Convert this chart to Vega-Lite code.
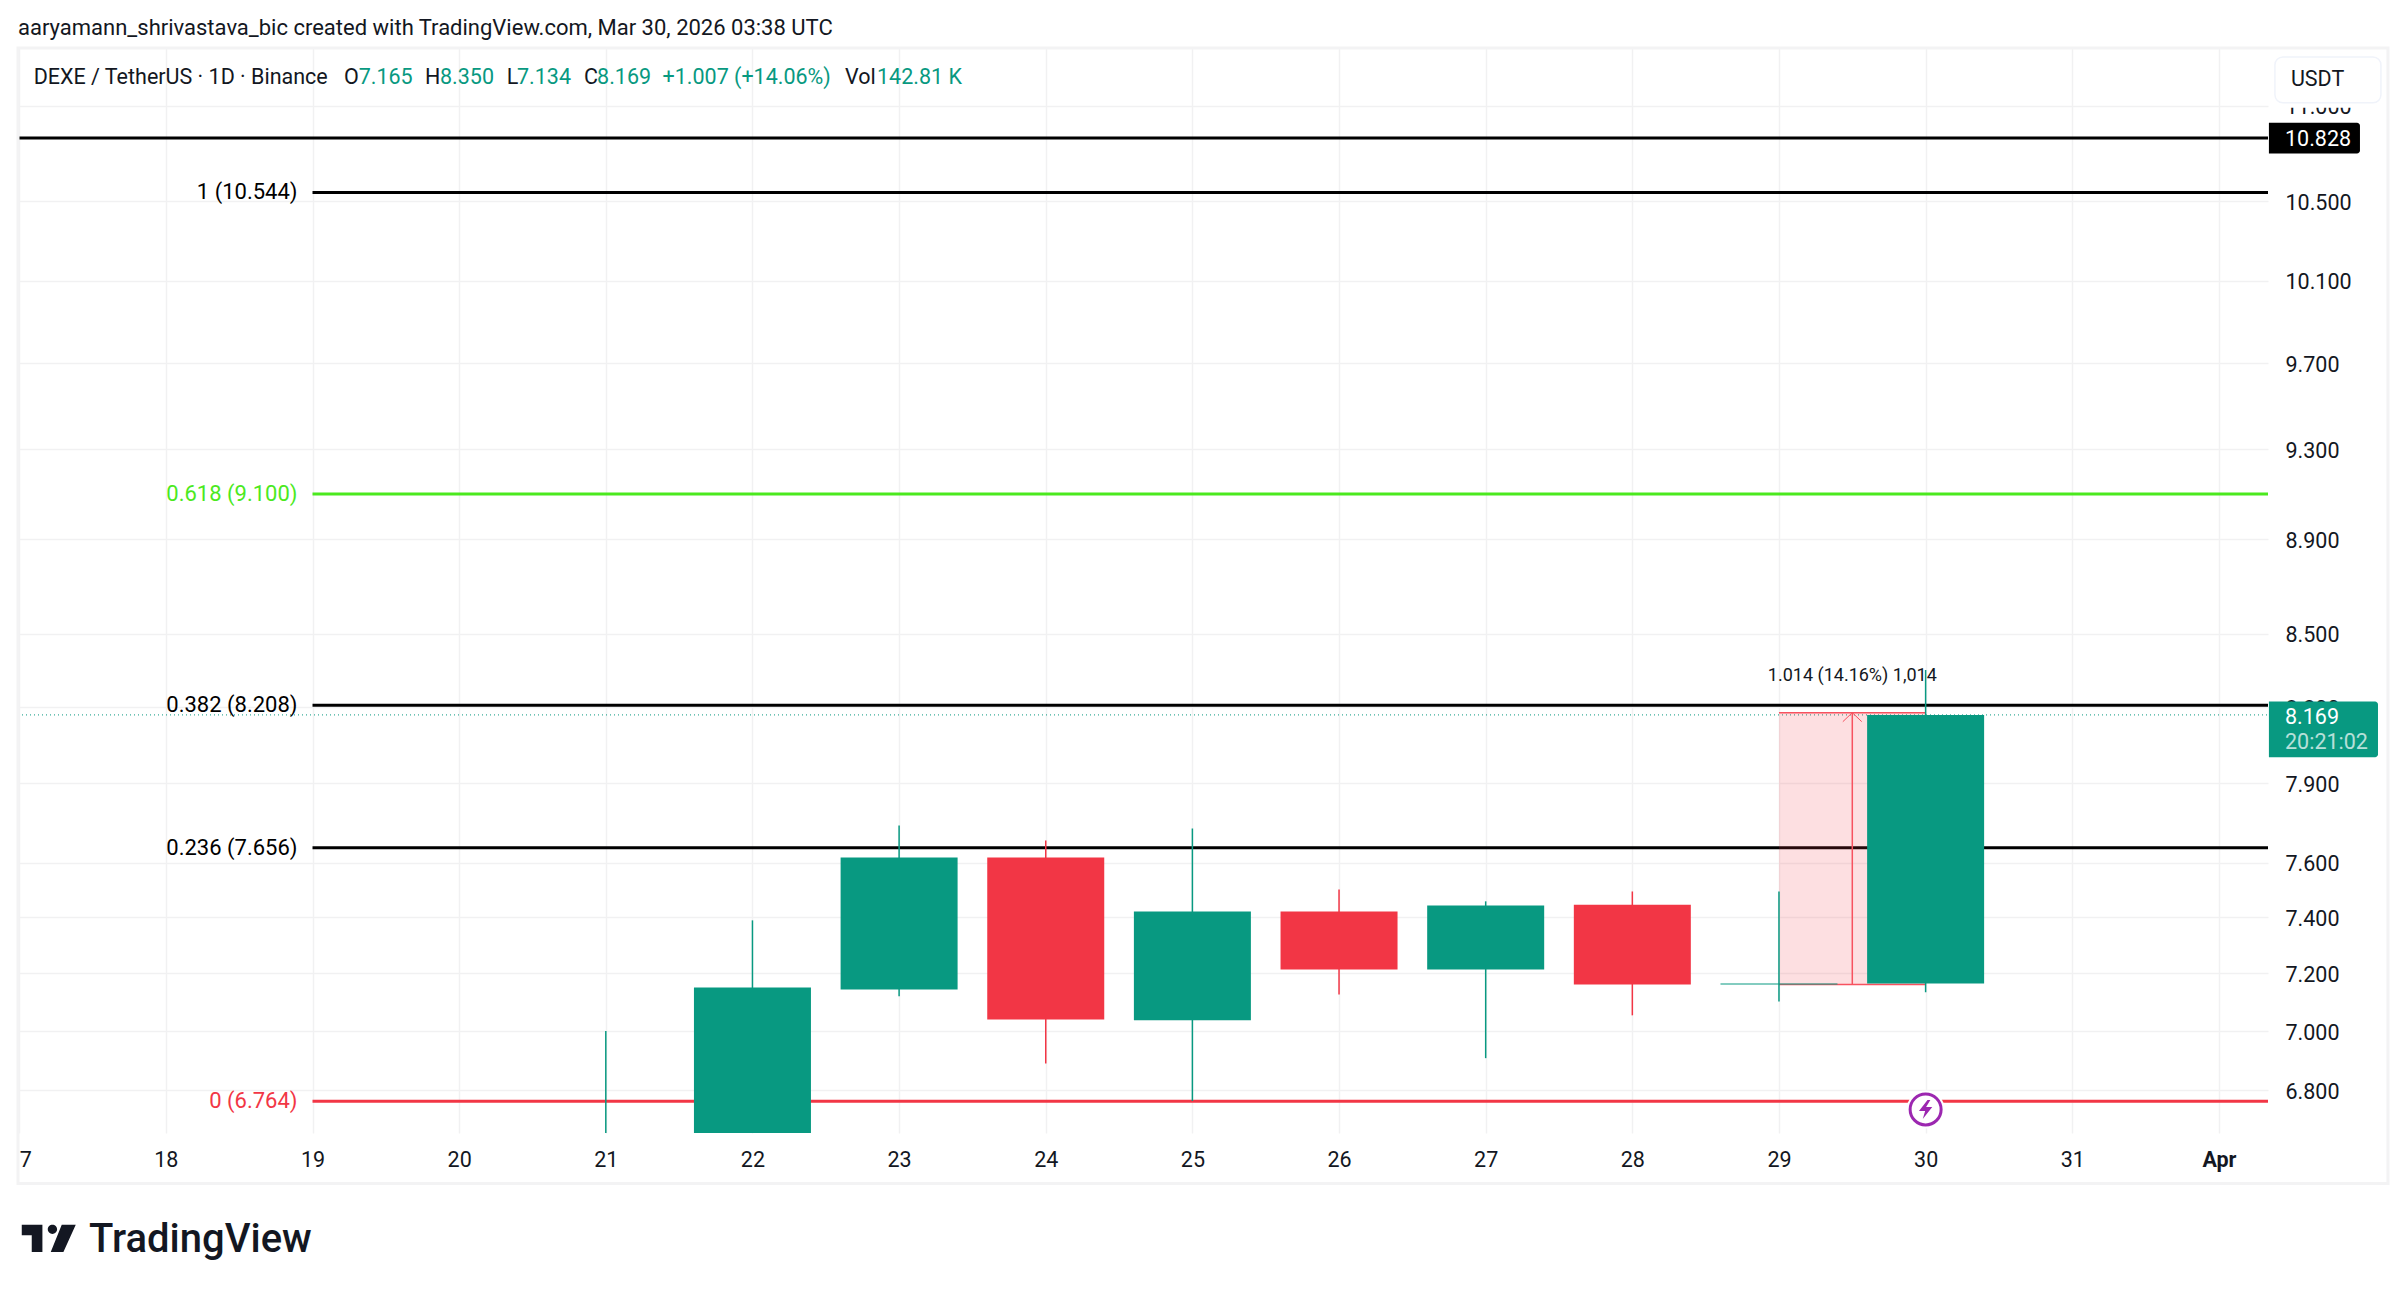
{
  "$schema": "https://vega.github.io/schema/vega-lite/v6.json",
  "width": 2250,
  "height": 1085,
  "autosize": {"type": "none"},
  "padding": {"left": 18, "top": 48, "right": 138, "bottom": 160},
  "background": "white",
  "title": {
    "text": "aaryamann_shrivastava_bic created with TradingView.com, Mar 30, 2026 03:38 UTC",
    "anchor": "start",
    "frame": "group",
    "offset": 7,
    "font": "Roboto",
    "fontSize": 22,
    "fontWeight": "normal",
    "color": "#131722"
  },
  "datasets": {
    "candles": [
      {"date": "2026-03-21T00:00:00Z", "open": 6.5, "close": 6.6, "high": 7.0, "low": 6.45, "direction": "up"},
      {"date": "2026-03-22T00:00:00Z", "open": 6.6, "close": 7.151, "high": 7.389, "low": 6.55, "direction": "up"},
      {"date": "2026-03-23T00:00:00Z", "open": 7.144, "close": 7.619, "high": 7.739, "low": 7.12, "direction": "up"},
      {"date": "2026-03-24T00:00:00Z", "open": 7.619, "close": 7.04, "high": 7.683, "low": 6.89, "direction": "down"},
      {"date": "2026-03-25T00:00:00Z", "open": 7.037, "close": 7.421, "high": 7.728, "low": 6.765, "direction": "up"},
      {"date": "2026-03-26T00:00:00Z", "open": 7.421, "close": 7.214, "high": 7.501, "low": 7.126, "direction": "down"},
      {"date": "2026-03-27T00:00:00Z", "open": 7.214, "close": 7.443, "high": 7.458, "low": 6.908, "direction": "up"},
      {"date": "2026-03-28T00:00:00Z", "open": 7.446, "close": 7.161, "high": 7.494, "low": 7.054, "direction": "down"},
      {"date": "2026-03-29T00:00:00Z", "open": 7.161, "close": 7.165, "high": 7.494, "low": 7.102, "direction": "up"},
      {"date": "2026-03-30T00:00:00Z", "open": 7.165, "close": 8.169, "high": 8.35, "low": 7.134, "direction": "up"}
    ],
    "fib": [
      {"date": "2026-03-19T00:00:00Z", "date2": "2026-04-01T08:02:00Z", "value": 6.764, "level": "0", "label": "0 (6.764)"},
      {"date": "2026-03-19T00:00:00Z", "date2": "2026-04-01T08:02:00Z", "value": 7.656, "level": "0.236", "label": "0.236 (7.656)"},
      {"date": "2026-03-19T00:00:00Z", "date2": "2026-04-01T08:02:00Z", "value": 8.208, "level": "0.382", "label": "0.382 (8.208)"},
      {"date": "2026-03-19T00:00:00Z", "date2": "2026-04-01T08:02:00Z", "value": 9.1, "level": "0.618", "label": "0.618 (9.100)"},
      {"date": "2026-03-19T00:00:00Z", "date2": "2026-04-01T08:02:00Z", "value": 10.544, "level": "1", "label": "1 (10.544)"}
    ],
    "header": [
      {"date": "2026-03-17T02:22:00Z", "value": 11.15, "label": "DEXE / TetherUS · 1D · Binance", "kind": "name"},
      {"date": "2026-03-19T05:09:00Z", "value": 11.15, "label": "O", "kind": "name"},
      {"date": "2026-03-19T07:33:00Z", "value": 11.15, "label": "7.165", "kind": "price"},
      {"date": "2026-03-19T18:25:00Z", "value": 11.15, "label": "H", "kind": "name"},
      {"date": "2026-03-19T20:52:00Z", "value": 11.15, "label": "8.350", "kind": "price"},
      {"date": "2026-03-20T07:47:00Z", "value": 11.15, "label": "L", "kind": "name"},
      {"date": "2026-03-20T09:28:00Z", "value": 11.15, "label": "7.134", "kind": "price"},
      {"date": "2026-03-20T20:26:00Z", "value": 11.15, "label": "C", "kind": "name"},
      {"date": "2026-03-20T22:34:00Z", "value": 11.15, "label": "8.169", "kind": "price"},
      {"date": "2026-03-21T09:17:00Z", "value": 11.15, "label": "+1.007 (+14.06%)", "kind": "price"},
      {"date": "2026-03-22T15:08:00Z", "value": 11.15, "label": "Vol", "kind": "name"},
      {"date": "2026-03-22T20:23:00Z", "value": 11.15, "label": "142.81 K", "kind": "price"}
    ]
  },
  "encoding": {
    "x": {
      "field": "date",
      "type": "temporal",
      "title": null,
      "scale": {"type": "utc", "domain": ["2026-03-16T23:48:00Z", "2026-04-01T08:02:00Z"], "nice": false, "padding": 0},
      "axis": {
        "values": ["2026-03-17T00:00:00Z", "2026-03-18T00:00:00Z", "2026-03-19T00:00:00Z", "2026-03-20T00:00:00Z", "2026-03-21T00:00:00Z", "2026-03-22T00:00:00Z", "2026-03-23T00:00:00Z", "2026-03-24T00:00:00Z", "2026-03-25T00:00:00Z", "2026-03-26T00:00:00Z", "2026-03-27T00:00:00Z", "2026-03-28T00:00:00Z", "2026-03-29T00:00:00Z", "2026-03-30T00:00:00Z", "2026-03-31T00:00:00Z", "2026-04-01T00:00:00Z"],
        "labelExpr": "utcdate(datum.value) === 1 ? 'Apr' : utcFormat(datum.value, '%-d')",
        "labelFontWeight": {"condition": {"test": "utcdate(datum.value) === 1", "value": "bold"}, "value": "normal"},
        "labelFont": "Roboto",
        "labelFontSize": 21.5,
        "labelColor": "#131722",
        "labelPadding": 27,
        "labelBaseline": "middle",
        "labelOverlap": false,
        "labelFlush": false,
        "labelBound": false,
        "domain": false,
        "ticks": false,
        "grid": true,
        "gridColor": "#f1f1f2",
        "gridWidth": 1.5
      }
    },
    "y": {
      "field": "value",
      "type": "quantitative",
      "title": null,
      "scale": {"type": "log", "domain": [6.66, 11.315], "nice": false, "zero": false},
      "axis": {
        "orient": "right",
        "values": [6.8, 7, 7.2, 7.4, 7.6, 7.9, 8.2, 8.5, 8.9, 9.3, 9.7, 10.1, 10.5, 11],
        "format": ".3f",
        "labelFont": "Roboto",
        "labelFontSize": 21.5,
        "labelColor": "#131722",
        "labelPadding": 17,
        "labelOffset": 2,
        "labelAlign": "left",
        "labelBaseline": "middle",
        "labelOverlap": false,
        "labelBound": false,
        "labelFlush": false,
        "domain": false,
        "ticks": false,
        "grid": true,
        "gridColor": "#f1f1f2",
        "gridWidth": 1.5
      }
    }
  },
  "layer": [
    {
      "data": {"name": "fib"},
      "mark": {"type": "rule", "strokeWidth": 3},
      "encoding": {
        "x2": {"field": "date2"},
        "color": {
          "field": "level",
          "type": "nominal",
          "legend": null,
          "scale": {
            "domain": ["0", "0.236", "0.382", "0.618", "1", "up", "down", "name", "price"],
            "range": ["#F23645", "#000000", "#000000", "#4BE91E", "#000000", "#089981", "#F23645", "#131722", "#089981"]
          }
        }
      }
    },
    {
      "data": {"name": "fib"},
      "mark": {"type": "text", "align": "right", "baseline": "middle", "dx": -15, "font": "Roboto", "fontSize": 22},
      "encoding": {
        "text": {"field": "label"},
        "color": {"field": "level", "type": "nominal", "legend": null}
      }
    },
    {
      "data": {"values": [{"date": "2026-03-16T23:48:00Z", "date2": "2026-04-01T08:02:00Z", "value": 10.828}]},
      "mark": {"type": "rule", "strokeWidth": 3, "color": "#000000"},
      "encoding": {"x2": {"field": "date2"}}
    },
    {
      "data": {"values": [{"date": "2026-03-16T23:48:00Z", "date2": "2026-04-01T08:02:00Z", "value": 8.169}]},
      "mark": {"type": "rule", "strokeWidth": 1, "color": "#089981", "strokeDash": [1, 3]},
      "encoding": {"x2": {"field": "date2"}}
    },
    {
      "data": {"values": [{"date": "2026-03-29T00:00:00Z", "date2": "2026-03-30T00:00:00Z", "value": 7.161, "value2": 8.178}]},
      "mark": {"type": "rect", "color": "#F23645", "opacity": 0.16},
      "encoding": {"x2": {"field": "date2"}, "y2": {"field": "value2"}}
    },
    {
      "data": {"values": [
        {"date": "2026-03-29T00:00:00Z", "date2": "2026-03-30T00:00:00Z", "value": 8.178},
        {"date": "2026-03-29T00:00:00Z", "date2": "2026-03-30T00:00:00Z", "value": 7.161}
      ]},
      "mark": {"type": "rule", "strokeWidth": 1.5, "color": "#F7525F"},
      "encoding": {"x2": {"field": "date2"}}
    },
    {
      "data": {"values": [{"date": "2026-03-29T12:00:00Z", "value": 7.161, "value2": 8.178}]},
      "mark": {"type": "rule", "strokeWidth": 1.5, "color": "#F7525F"},
      "encoding": {"y2": {"field": "value2"}}
    },
    {
      "data": {"values": [
        {"date": "2026-03-29T10:27:00Z", "value": 8.142},
        {"date": "2026-03-29T12:00:00Z", "value": 8.178},
        {"date": "2026-03-29T13:33:00Z", "value": 8.142}
      ]},
      "mark": {"type": "line", "strokeWidth": 1, "color": "#F7525F"}
    },
    {
      "data": {"name": "candles"},
      "mark": {"type": "rule", "strokeWidth": 1.5, "clip": true},
      "encoding": {
        "y": {"field": "low", "type": "quantitative"},
        "y2": {"field": "high"},
        "color": {"field": "direction", "type": "nominal", "legend": null}
      }
    },
    {
      "data": {"name": "candles"},
      "mark": {"type": "bar", "width": 117, "clip": true},
      "encoding": {
        "y": {"field": "open", "type": "quantitative"},
        "y2": {"field": "close"},
        "color": {"field": "direction", "type": "nominal", "legend": null}
      }
    },
    {
      "data": {"values": [{"date": "2026-03-29T12:00:00Z", "value": 8.324, "label": "1.014 (14.16%) 1,014"}]},
      "mark": {"type": "text", "align": "center", "baseline": "middle", "font": "Roboto", "fontSize": 18, "color": "#131722"},
      "encoding": {"text": {"field": "label"}}
    },
    {
      "data": {"values": [{"date": "2026-03-30T00:00:00Z", "value": 6.737}]},
      "mark": {"type": "point", "shape": "circle", "filled": true, "size": 1450, "color": "white", "opacity": 1}
    },
    {
      "data": {"values": [{"date": "2026-03-30T00:00:00Z", "value": 6.737}]},
      "mark": {"type": "point", "shape": "circle", "filled": false, "size": 960, "color": "#9C27B0", "strokeWidth": 3, "opacity": 1}
    },
    {
      "data": {"values": [{"date": "2026-03-30T00:00:00Z", "value": 6.737}]},
      "mark": {"type": "point", "shape": "M0.2,-1L-0.7,0.15L-0.05,0.15L-0.3,1L0.7,-0.25L0.05,-0.25L0.5,-1Z", "filled": true, "size": 361, "color": "#9C27B0", "opacity": 1}
    },
    {
      "data": {"values": [{"date": "2026-04-01T08:11:00Z", "date2": "2026-04-02T03:30:00Z", "value": 11.3, "value2": 10.989}]},
      "mark": {"type": "rect", "color": "white"},
      "encoding": {"x2": {"field": "date2"}, "y2": {"field": "value2"}}
    },
    {
      "data": {"values": [{"date": "2026-04-01T09:10:00Z", "date2": "2026-04-02T02:31:00Z", "value": 11.266, "value2": 11.016}]},
      "mark": {"type": "rect", "fill": "white", "stroke": "#F0F3FA", "strokeWidth": 1.5, "cornerRadius": 8},
      "encoding": {"x2": {"field": "date2"}, "y2": {"field": "value2"}}
    },
    {
      "data": {"values": [{"date": "2026-04-01T08:11:00Z", "date2": "2026-04-01T23:05:00Z", "value": 10.909, "value2": 10.746}]},
      "mark": {"type": "rect", "color": "#000000", "cornerRadiusTopRight": 3, "cornerRadiusBottomRight": 3},
      "encoding": {"x2": {"field": "date2"}, "y2": {"field": "value2"}}
    },
    {
      "data": {"values": [{"date": "2026-04-01T08:11:00Z", "date2": "2026-04-02T02:02:00Z", "value": 8.223, "value2": 8.002}]},
      "mark": {"type": "rect", "color": "#089981", "cornerRadiusTopRight": 3, "cornerRadiusBottomRight": 3},
      "encoding": {"x2": {"field": "date2"}, "y2": {"field": "value2"}}
    },
    {
      "data": {"values": [
        {"date": "2026-04-01T10:49:00Z", "value": 10.82, "label": "10.828"},
        {"date": "2026-04-01T10:49:00Z", "value": 8.158, "label": "8.169"}
      ]},
      "mark": {"type": "text", "align": "left", "baseline": "middle", "font": "Roboto", "fontSize": 21.5, "color": "white"},
      "encoding": {"text": {"field": "label"}}
    },
    {
      "data": {"values": [{"date": "2026-04-01T10:49:00Z", "value": 8.059, "label": "20:21:02"}]},
      "mark": {"type": "text", "align": "left", "baseline": "middle", "font": "Roboto", "fontSize": 21.5, "color": "white", "opacity": 0.7},
      "encoding": {"text": {"field": "label"}}
    },
    {
      "data": {"values": [{"date": "2026-04-01T11:47:00Z", "value": 11.138, "label": "USDT"}]},
      "mark": {"type": "text", "align": "left", "baseline": "middle", "font": "Roboto", "fontSize": 21.5, "color": "#131722"},
      "encoding": {"text": {"field": "label"}}
    },
    {
      "data": {"name": "header"},
      "mark": {"type": "text", "align": "left", "baseline": "middle", "font": "Roboto", "fontSize": 21.5},
      "encoding": {
        "text": {"field": "label"},
        "color": {"field": "kind", "type": "nominal", "legend": null}
      }
    },
    {
      "data": {"values": [{"date": "2026-03-16T20:51:00Z", "date2": "2026-03-16T23:48:00Z", "value": 6.66, "value2": 6.498}]},
      "mark": {"type": "rect", "color": "white"},
      "encoding": {"x2": {"field": "date2"}, "y2": {"field": "value2"}}
    },
    {
      "data": {"values": [{"date": "2026-03-16T23:48:00Z", "date2": "2026-04-02T03:40:00Z", "value": 11.315, "value2": 6.498}]},
      "mark": {"type": "rect", "fill": "transparent", "stroke": "#F3F3F4", "strokeWidth": 3},
      "encoding": {"x2": {"field": "date2"}, "y2": {"field": "value2"}}
    },
    {
      "data": {"values": [{"date": "2026-03-17T04:50:00Z", "value": 6.326}]},
      "mark": {"type": "point", "shape": "M-1,-0.506L-0.235,-0.506L-0.235,0.506L-0.63,0.506L-0.63,-0.111L-1,-0.111ZM0.481,-0.506L1,-0.506L0.543,0.506L0.074,0.506ZM-0.037,-0.333a0.173,0.173 0 1,0 0.346,0a0.173,0.173 0 1,0 -0.346,0Z", "filled": true, "size": 2916, "color": "#131722", "opacity": 1}
    },
    {
      "data": {"values": [{"date": "2026-03-17T11:25:00Z", "value": 6.32, "label": "TradingView"}]},
      "mark": {"type": "text", "align": "left", "baseline": "middle", "font": "Roboto", "fontSize": 40, "fontWeight": 500, "color": "#131722"},
      "encoding": {"text": {"field": "label"}}
    }
  ],
  "config": {"view": {"stroke": null}}
}
